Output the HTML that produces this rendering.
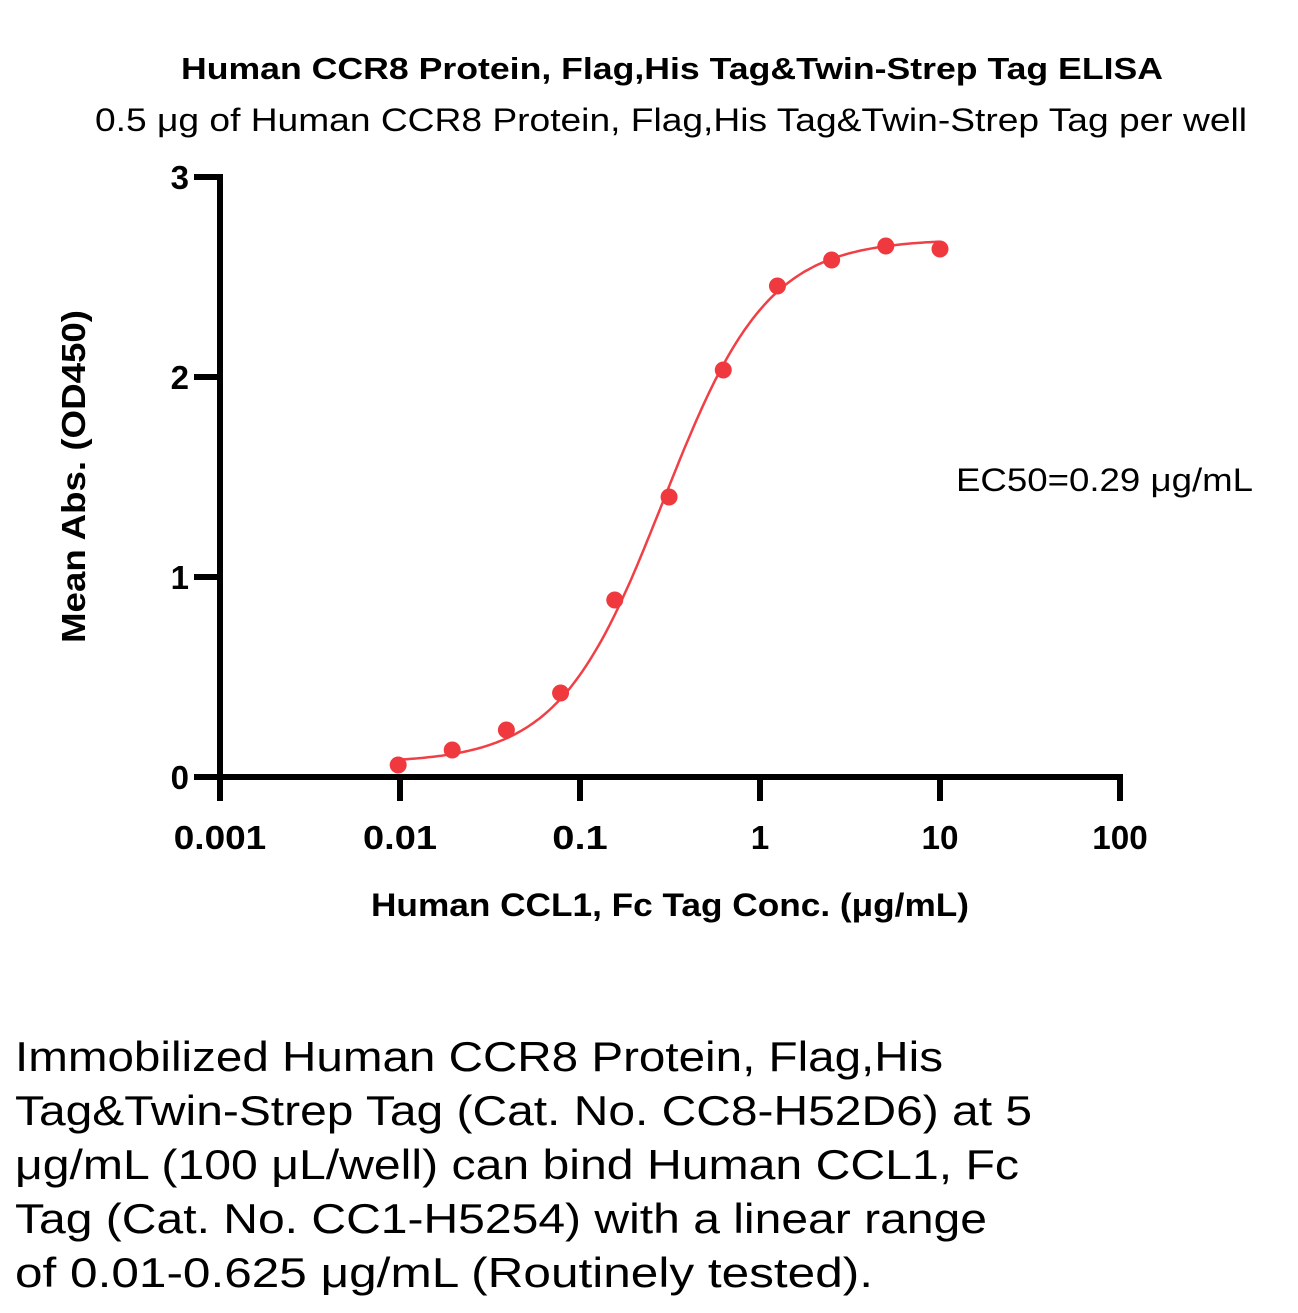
<!DOCTYPE html>
<html><head><meta charset="utf-8"><style>
body{margin:0;background:#fff;width:1298px;height:1313px;overflow:hidden;font-family:"Liberation Sans","DejaVu Sans",sans-serif;}
svg text{font-family:"Liberation Sans","DejaVu Sans",sans-serif;}
</style></head><body>
<svg id="chart" width="1298" height="1313" style="position:absolute;left:0;top:0">
<text x="181" y="79" textLength="982" lengthAdjust="spacingAndGlyphs" font-size="31" font-weight="bold">Human CCR8 Protein, Flag,His Tag&amp;Twin-Strep Tag ELISA</text>
<text x="95" y="131" textLength="1152" lengthAdjust="spacingAndGlyphs" font-size="32">0.5 μg of Human CCR8 Protein, Flag,His Tag&amp;Twin-Strep Tag per well</text>
<text transform="translate(85,643) rotate(-90)" textLength="333" lengthAdjust="spacingAndGlyphs" font-size="33" font-weight="bold">Mean Abs. (OD450)</text>
<text x="371" y="916" textLength="598" lengthAdjust="spacingAndGlyphs" font-size="32" font-weight="bold">Human CCL1, Fc Tag Conc. (μg/mL)</text>
<text x="956" y="491" textLength="297" lengthAdjust="spacingAndGlyphs" font-size="32">EC50=0.29 μg/mL</text>
<g id="axes"></g>
<g id="marks"></g>
<g font-size="42">
<text x="15" y="1071" textLength="928" lengthAdjust="spacingAndGlyphs">Immobilized Human CCR8 Protein, Flag,His</text>
<text x="15" y="1125" textLength="1017" lengthAdjust="spacingAndGlyphs">Tag&amp;Twin-Strep Tag (Cat. No. CC8-H52D6) at 5</text>
<text x="15" y="1179" textLength="1004" lengthAdjust="spacingAndGlyphs">μg/mL (100 μL/well) can bind Human CCL1, Fc</text>
<text x="15" y="1233" textLength="972" lengthAdjust="spacingAndGlyphs">Tag (Cat. No. CC1-H5254) with a linear range</text>
<text x="15" y="1287" textLength="858" lengthAdjust="spacingAndGlyphs">of 0.01-0.625 μg/mL (Routinely tested).</text>
</g>
</svg>
<script>
const concentrations=[0.00977,0.0195,0.039,0.078,0.156,0.3125,0.625,1.25,2.5,5,10];
const absorbance=[0.06,0.135,0.235,0.42,0.885,1.40,2.035,2.455,2.585,2.655,2.64];
const xTicks=[0.001,0.01,0.1,1,10,100];
const xTickLabels=["0.001","0.01","0.1","1","10","100"];
const yTicks=[0,1,2,3];
const fitBottom=0.07, fitTop=2.69, fitEC50=0.29, fitHill=1.5;
const NS="http://www.w3.org/2000/svg";
const X=v=>220+180*(Math.log10(v)+3);
const Y=v=>777-200*v;
function mk(tag,attrs,parent){const e=document.createElementNS(NS,tag);for(const k in attrs)e.setAttribute(k,attrs[k]);parent.appendChild(e);return e;}
const axes=document.getElementById('axes'), marks=document.getElementById('marks');
let e=mk('line',{x1:220,y1:Y(3)-3,x2:220,y2:800,stroke:'#000','stroke-width':6},axes);


e=mk('line',{x1:194,y1:777,x2:1123,y2:777,stroke:'#000','stroke-width':6},axes);


xTicks.forEach((t,i)=>{
 const tk=mk('line',{x1:X(t),y1:777,x2:X(t),y2:801,stroke:'#000','stroke-width':6},axes);
 
 
 const lab=xTickLabels[i];
 const w=lab.length*18.5;
 const tx=mk('text',{x:X(t),y:849,'text-anchor':'middle','font-size':33,'font-weight':'bold',textLength:w,lengthAdjust:'spacingAndGlyphs'},axes);
 tx.textContent=lab;
 
 
});
yTicks.forEach(t=>{
 const tk=mk('line',{x1:194,y1:Y(t),x2:220,y2:Y(t),stroke:'#000','stroke-width':6},axes);
 
 
 const tx=mk('text',{x:189,y:Y(t)+12,'text-anchor':'end','font-size':33,'font-weight':'bold'},axes);
 tx.textContent=String(t);
 
 
});
let d='';
const l0=Math.log10(concentrations[0]), l1=Math.log10(concentrations[concentrations.length-1]);
for(let i=0;i<=200;i++){const lx=l0+(l1-l0)*i/200;const c=Math.pow(10,lx);
 const v=fitBottom+(fitTop-fitBottom)/(1+Math.pow(fitEC50/c,fitHill));
 d+=(i?'L':'M')+X(c).toFixed(1)+','+Y(v).toFixed(1);}
e=mk('path',{d:d,fill:'none',stroke:'#f04046','stroke-width':2.5},marks);


concentrations.forEach((c,i)=>{
 const p=mk('circle',{cx:X(c),cy:Y(absorbance[i]),r:8.5,fill:'#f0393e'},marks);
 
 
});
</script>
</body></html>
